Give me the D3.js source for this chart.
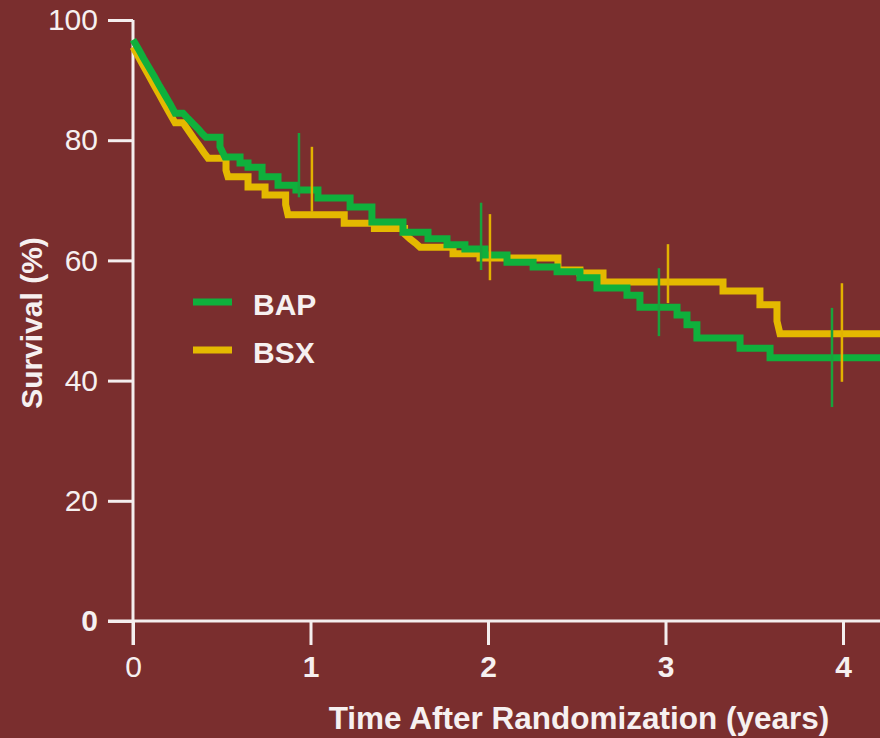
<!DOCTYPE html>
<html>
<head>
<meta charset="utf-8">
<title>Survival</title>
<script src="https://cdn.jsdelivr.net/npm/d3@7"></script>
<style>
    body { margin: 0; background: #7a2e2e; }
    svg text { font-family: "Liberation Sans", Arial, sans-serif; fill: #f6f0f0; }
    .axis path.domain { display: none; }
    .axis line { stroke: #f4eeee; stroke-width: 3; }
</style>
</head>
<body>
<script>
// Kaplan-Meier steps: [years, survival %]
var bapSteps = [
    [0, 96.7], [0.03, 95.2], [0.06, 93.6], [0.09, 92.1], [0.12, 90.6], [0.15, 89.0],
    [0.18, 87.5], [0.21, 86.0], [0.237, 84.5],
    [0.282, 84.5], [0.31, 83.6], [0.34, 82.7], [0.37, 81.8], [0.39, 81.1], [0.411, 80.5],
    [0.49, 78.9], [0.518, 77.2], [0.603, 76.2], [0.648, 75.5], [0.727, 73.9],
    [0.817, 72.5], [0.918, 71.7], [1.042, 70.4], [1.223, 68.9], [1.346, 66.4],
    [1.521, 64.7], [1.662, 63.6], [1.769, 62.6], [1.870, 61.9], [1.983, 60.9],
    [2.107, 59.7], [2.254, 58.9], [2.389, 58.1], [2.518, 57.1], [2.614, 55.4],
    [2.783, 54.2], [2.856, 52.2], [3.065, 50.9], [3.121, 49.3], [3.177, 47.1],
    [3.420, 45.4], [3.589, 43.8], [4.21, 43.8]
];

var bsxSteps = [
    [0, 95.5], [0.03, 93.9], [0.06, 92.3], [0.09, 90.7], [0.12, 89.1], [0.15, 87.5],
    [0.18, 85.9], [0.21, 84.3], [0.237, 82.9],
    [0.282, 82.9], [0.31, 81.7], [0.34, 80.4], [0.37, 79.2], [0.40, 77.9], [0.423, 77.0],
    [0.524, 75.0], [0.535, 73.9], [0.648, 72.2], [0.744, 70.9], [0.86, 69.3],
    [0.873, 67.6], [1.19, 66.2], [1.36, 65.3], [1.53, 64.4], [1.56, 63.6],
    [1.59, 62.9], [1.617, 62.2], [1.803, 61.1], [1.955, 60.4], [2.394, 58.4],
    [2.518, 57.9], [2.648, 56.4], [3.324, 54.9], [3.532, 52.6], [3.628, 49.9],
    [3.645, 47.8], [4.21, 47.8]
];

// confidence bars: [years, low %, high %]
var bapBars = [[0.935, 70.5, 81.2], [1.961, 58.4, 69.6], [2.963, 47.4, 58.7], [3.938, 35.6, 52.1]];
var bsxBars = [[1.008, 68.1, 78.9], [2.011, 56.7, 67.7], [3.014, 52.9, 62.7], [3.994, 39.8, 56.2]];

var xTicks = [0, 1, 2, 3, 4];
var yTicks = [0, 20, 40, 60, 80, 100];
var seriesNames = ["BAP", "BSX"];
var seriesColors = ["#0fb03c", "#e4b900"];
var barColors = ["#19a23c", "#e2b200"];

var width = 880, height = 738;

var x = d3.scaleLinear().domain([0, 4]).range([133, 843]);
var y = d3.scaleLinear().domain([0, 100]).range([621, 20]);

var svg = d3.select("body").append("svg")
        .attr("width", width)
        .attr("height", height);

svg.append("rect")
        .attr("width", width)
        .attr("height", height)
        .attr("fill", "#7a2e2e");

// axes
var yAxis = svg.append("g")
        .attr("class", "axis")
        .attr("transform", "translate(" + x(0) + ",0)")
        .call(d3.axisLeft(y).tickValues(yTicks).tickSize(25).tickPadding(10));
yAxis.selectAll("text")
        .style("font-size", "30px")
        .style("font-weight", function (d) { return d === 0 ? "bold" : "normal"; });

var xAxis = svg.append("g")
        .attr("class", "axis")
        .attr("transform", "translate(0," + y(0) + ")")
        .call(d3.axisBottom(x).tickValues(xTicks).tickFormat(d3.format("d"))
                .tickSize(24).tickPadding(11));
xAxis.selectAll("text")
        .style("font-size", "30px")
        .style("font-weight", function (d) { return d === 0 ? "normal" : "bold"; });

svg.append("line")
        .attr("x1", x(0)).attr("x2", x(0))
        .attr("y1", y(100)).attr("y2", y(0) + 24)
        .attr("stroke", "#f4eeee").attr("stroke-width", 3);

svg.append("line")
        .attr("x1", x(0) - 25).attr("x2", width)
        .attr("y1", y(0)).attr("y2", y(0))
        .attr("stroke", "#f4eeee").attr("stroke-width", 3);

// curves: wide gaps drawn as steps, dense runs of deaths drawn straight
function stepPoints(steps) {
    var pts = [steps[0]];
    for (var i = 1; i < steps.length; i++) {
        if (steps[i][0] - steps[i - 1][0] > 0.035)
            pts.push([steps[i][0], steps[i - 1][1]]);
        pts.push(steps[i]);
    }
    return pts;
}

var line = d3.line()
        .x(function (d) { return x(d[0]); })
        .y(function (d) { return y(d[1]); });

var curves = [bsxSteps, bapSteps];
var curveColors = [seriesColors[1], seriesColors[0]];

svg.selectAll("path.km")
        .data(curves)
        .enter().append("path")
        .attr("class", "km")
        .attr("d", function (d) { return line(stepPoints(d)); })
        .attr("fill", "none")
        .attr("stroke", function (d, i) { return curveColors[i]; })
        .attr("stroke-width", 7)
        .attr("stroke-linejoin", "miter");

// confidence bars
[bapBars, bsxBars].forEach(function (bars, k) {
    svg.selectAll("line.bar" + k)
            .data(bars)
            .enter().append("line")
            .attr("class", "bar" + k)
            .attr("x1", function (d) { return x(d[0]); })
            .attr("x2", function (d) { return x(d[0]); })
            .attr("y1", function (d) { return y(d[1]); })
            .attr("y2", function (d) { return y(d[2]); })
            .attr("stroke", barColors[k])
            .attr("stroke-width", 2.5);
});

// legend
var legendY = [302, 350];
var legend = svg.selectAll("g.legend")
        .data(seriesNames)
        .enter().append("g")
        .attr("class", "legend")
        .attr("transform", function (d, i) { return "translate(193," + legendY[i] + ")"; });

legend.append("line")
        .attr("x1", 0).attr("x2", 39)
        .attr("stroke", function (d, i) { return seriesColors[i]; })
        .attr("stroke-width", 7);

legend.append("text")
        .attr("x", 60)
        .attr("y", 13)
        .style("font-size", "30px")
        .style("font-weight", "bold")
        .text(function (d) { return d; });

// axis titles
svg.append("text")
        .attr("x", 579)
        .attr("y", 729)
        .attr("text-anchor", "middle")
        .style("font-size", "31.5px")
        .style("font-weight", "bold")
        .text("Time After Randomization (years)");

svg.append("text")
        .attr("transform", "translate(42,323) rotate(-90)")
        .attr("text-anchor", "middle")
        .style("font-size", "30px")
        .style("font-weight", "bold")
        .text("Survival (%)");
</script>
</body>
</html>
